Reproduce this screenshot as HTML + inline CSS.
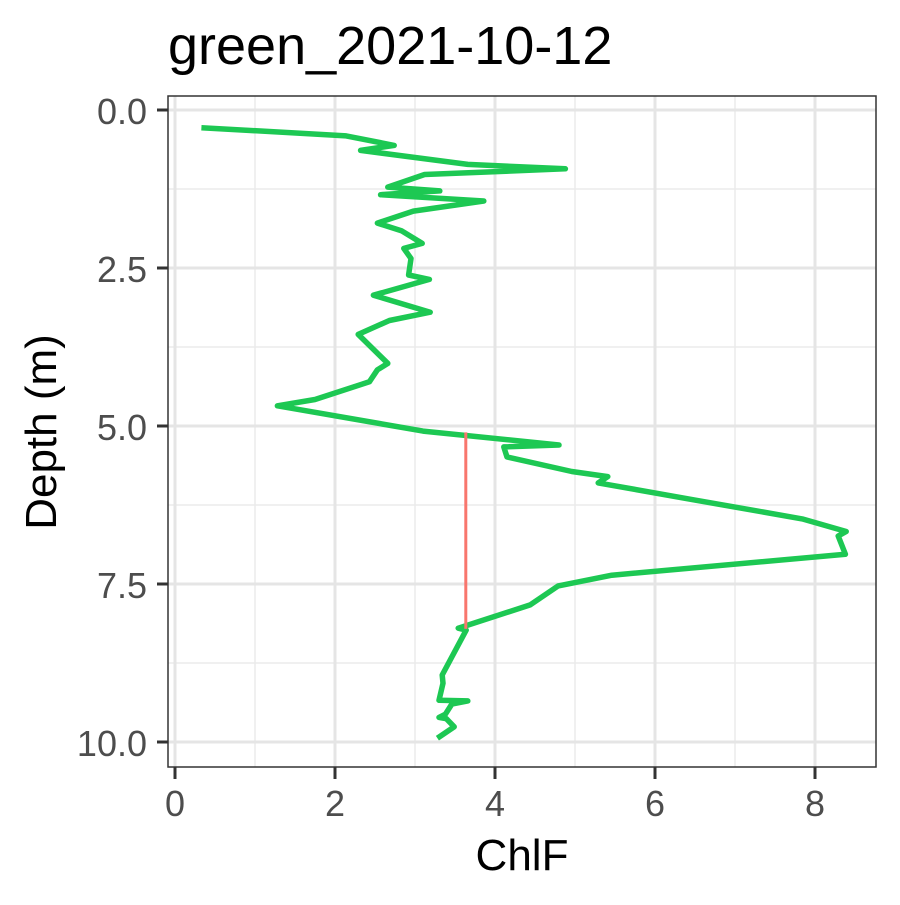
<!DOCTYPE html>
<html><head><meta charset="utf-8"><style>
body{margin:0;background:#fff;}
text{font-family:"Liberation Sans",sans-serif;}
</style></head><body>
<svg id="chart" width="900" height="900" xmlns="http://www.w3.org/2000/svg">
<rect width="900" height="900" fill="#fff"/>
<text x="168" y="64" font-size="54" fill="#000">green_2021-10-12</text>
<g id="grid"></g>
<g id="marks"></g>
<rect x="168" y="96" width="708" height="671" fill="none" stroke="#333" stroke-width="1.5"/>
<g id="axes"></g>
<text x="522" y="870" font-size="44" text-anchor="middle" fill="#000">ChlF</text>
<text x="0" y="0" font-size="44" text-anchor="middle" fill="#000" transform="translate(56,432) rotate(-90)">Depth (m)</text>
</svg>
<script>
const chlf = [0.33,2.14,2.74,2.32,3.66,4.88,3.12,2.66,3.31,2.57,3.86,2.98,2.53,2.83,3.09,2.86,2.95,2.92,3.18,2.48,3.19,2.68,2.29,2.66,2.53,2.43,1.75,1.28,3.10,4.80,4.11,4.15,4.96,5.41,5.29,6.49,7.84,8.39,8.29,8.38,5.46,4.79,4.44,3.54,3.64,3.34,3.35,3.30,3.66,3.46,3.38,3.30,3.39,3.49,3.28];
const depth = [0.28,0.41,0.56,0.64,0.86,0.93,1.02,1.22,1.28,1.34,1.44,1.60,1.79,1.91,2.11,2.19,2.35,2.61,2.68,2.93,3.20,3.33,3.55,4.01,4.11,4.30,4.58,4.68,5.08,5.30,5.33,5.49,5.72,5.80,5.90,6.17,6.47,6.67,6.74,7.03,7.36,7.53,7.83,8.20,8.23,8.94,9.07,9.34,9.35,9.40,9.56,9.61,9.63,9.76,9.94];
const segX = [3.635];
const segY = [5.10, 8.21];
const xTicks = [0,2,4,6,8];
const xTickLabels = ["0","2","4","6","8"];
const xMinor = [1,3,5,7];
const yTicks = [0,2.5,5,7.5,10];
const yTickLabels = ["0.0","2.5","5.0","7.5","10.0"];
const yMinor = [1.25,3.75,6.25,8.75];

const X = v => 175 + v*80;
const Y = v => 110 + v*63.2;
const NS = "http://www.w3.org/2000/svg";
function mk(tag, attrs, parent){const e=document.createElementNS(NS,tag);for(const k in attrs)e.setAttribute(k,attrs[k]);parent.appendChild(e);return e;}
const grid=document.getElementById('grid'), marks=document.getElementById('marks'), axes=document.getElementById('axes');
mk('rect',{x:168,y:96,width:708,height:671,fill:'#fff'},grid);
xMinor.forEach(v=>{const l=mk('line',{x1:X(v),x2:X(v),y1:96,y2:767,stroke:'#ebebeb','stroke-width':1.5},grid);

});
yMinor.forEach(v=>{const l=mk('line',{x1:168,x2:876,y1:Y(v),y2:Y(v),stroke:'#ebebeb','stroke-width':1.5},grid);

});
xTicks.forEach((v,i)=>{const l=mk('line',{x1:X(v),x2:X(v),y1:96,y2:767,stroke:'#e5e5e5','stroke-width':3},grid);


const t=mk('line',{x1:X(v),x2:X(v),y1:767,y2:779,stroke:'#333','stroke-width':3},axes);


const tx=mk('text',{x:X(v),y:816,'font-size':36,fill:'#4d4d4d','text-anchor':'middle'},axes);tx.textContent=xTickLabels[i];

});
yTicks.forEach((v,i)=>{const l=mk('line',{x1:168,x2:876,y1:Y(v),y2:Y(v),stroke:'#e5e5e5','stroke-width':3},grid);


const t=mk('line',{x1:157,x2:168,y1:Y(v),y2:Y(v),stroke:'#333','stroke-width':3},axes);


const tx=mk('text',{x:147,y:Y(v)+14,'font-size':36,fill:'#4d4d4d','text-anchor':'end'},axes);tx.textContent=yTickLabels[i];

});
const pts=chlf.map((v,i)=>X(v).toFixed(1)+','+Y(depth[i]).toFixed(1)).join(' ');
const pl=mk('polyline',{points:pts,fill:'none',stroke:'#1DC853','stroke-width':5.5,'stroke-linejoin':'round'},marks);


const seg=mk('line',{x1:X(segX[0]),x2:X(segX[0]),y1:Y(segY[0]),y2:Y(segY[1]),stroke:'#F8766D','stroke-width':3},marks);


</script>
</body></html>
